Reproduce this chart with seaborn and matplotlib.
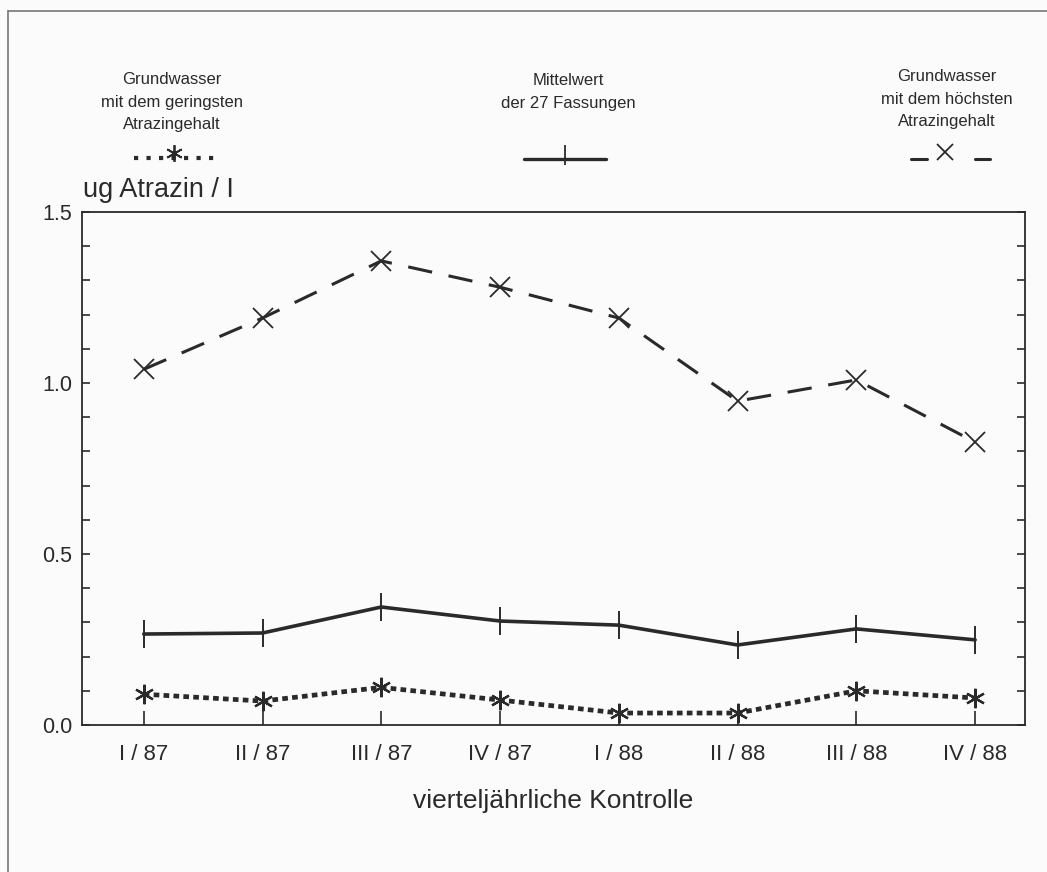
import matplotlib
matplotlib.use("Agg")
import matplotlib.pyplot as plt
import seaborn as sns
import numpy as np
import pandas as pd
from matplotlib.lines import Line2D

# ---- data ----
quarters = ["I / 87", "II / 87", "III / 87", "IV / 87", "I / 88", "II / 88", "III / 88", "IV / 88"]
lowest = [0.09, 0.07, 0.11, 0.073, 0.035, 0.035, 0.10, 0.079]
mean27 = [0.266, 0.269, 0.345, 0.304, 0.292, 0.234, 0.281, 0.249]
highest = [1.04, 1.19, 1.357, 1.28, 1.19, 0.947, 1.009, 0.827]
yticks = [0.0, 0.5, 1.0, 1.5]
ytick_labels = ["0.0", "0.5", "1.0", "1.5"]

sns.set_theme(style="white")
plt.rcParams['font.family'] = ['Liberation Sans', 'DejaVu Sans']

ink = "#2a2a2a"
bg = "#fbfbfb"

fig = plt.figure(figsize=(10.47, 8.72), dpi=100, facecolor=bg)
ax = fig.add_axes([82/1047, 1-725/872, (1025-82)/1047, (725-212)/872])
ax.set_facecolor(bg)

pos = np.arange(len(quarters))
df = pd.DataFrame({"pos": pos, "low": lowest, "mean": mean27, "high": highest})

sns.lineplot(data=df, x="pos", y="high", ax=ax, color=ink, lw=2.2,
             marker="x", markersize=15, markeredgewidth=1.3, markeredgecolor=ink,
             dashes=False, linestyle=(0, (8, 5.5)))
sns.lineplot(data=df, x="pos", y="mean", ax=ax, color=ink, lw=2.6,
             marker="|", markersize=20, markeredgewidth=1.4, markeredgecolor=ink)
sns.lineplot(data=df, x="pos", y="low", ax=ax, color=ink, lw=3.4,
             linestyle=(0, (1.2, 0.9)),
             marker=(6, 2, 0), markersize=14, markeredgewidth=1.6, markeredgecolor=ink)

ax.set_xlim(-0.52, 7.42)
ax.set_ylim(0, 1.5)
ax.set_xticks(pos)
ax.set_xticklabels(quarters, fontsize=16, color=ink)
ax.set_yticks(yticks)
ax.set_yticklabels(ytick_labels, fontsize=15.5, color=ink)
ax.set_yticks(np.arange(0, 1.51, 0.1), minor=True)
ax.tick_params(axis="y", which="both", direction="in", length=6, width=1.2, color=ink,
               left=True, right=True, pad=7)
ax.tick_params(axis="x", which="major", direction="in", length=10, width=1.2, color=ink,
               bottom=True, top=False, pad=14)
ax.set_xlabel("vierteljährliche Kontrolle", fontsize=19, color=ink, labelpad=17)
ax.set_ylabel("")
for s in ax.spines.values():
    s.set_color(ink)
    s.set_linewidth(1.3)

fig.text(83/1047, 1-190/872, "ug Atrazin / I", fontsize=19.5, color=ink, ha="left", va="center")

# legend-like header
fs = 12
fig.text(172/1047, 1-102/872, "Grundwasser\nmit dem geringsten\nAtrazingehalt", fontsize=fs,
         color=ink, ha="center", va="center", linespacing=1.6)
fig.text(568/1047, 1-92/872, "Mittelwert\nder 27 Fassungen", fontsize=fs,
         color=ink, ha="center", va="center", linespacing=1.6)
fig.text(947/1047, 1-99/872, "Grundwasser\nmit dem höchsten\nAtrazingehalt", fontsize=fs,
         color=ink, ha="center", va="center", linespacing=1.6)

def legline(x0, x1, y, **kw):
    fig.add_artist(Line2D([x0/1047, x1/1047], [1-y/872, 1-y/872], transform=fig.transFigure, color=ink, **kw))

def legmark(x, y, **kw):
    fig.add_artist(Line2D([x/1047], [1-y/872], transform=fig.transFigure, color=ink, linestyle="none", **kw))

legline(134, 216, 158, lw=3.0, linestyle=(0, (1.0, 2.0)))
legmark(174, 153, marker=(6, 2, 0), markersize=12, markeredgewidth=1.3)
legline(524, 606, 159, lw=2.4)
legmark(565, 155, marker="|", markersize=14, markeredgewidth=1.3)
legline(911, 927, 159, lw=2.2)
legline(975, 990, 159, lw=2.2)
legmark(945, 152, marker="x", markersize=12, markeredgewidth=1.3)

# outer frame (left and top edges visible)
fig.add_artist(Line2D([8/1047, 8/1047], [0, 1-11/872], transform=fig.transFigure, color="#777777", lw=1.2))
fig.add_artist(Line2D([8/1047, 1], [1-11/872, 1-11/872], transform=fig.transFigure, color="#777777", lw=1.2))

fig.savefig("out.png", dpi=100, facecolor=bg)
